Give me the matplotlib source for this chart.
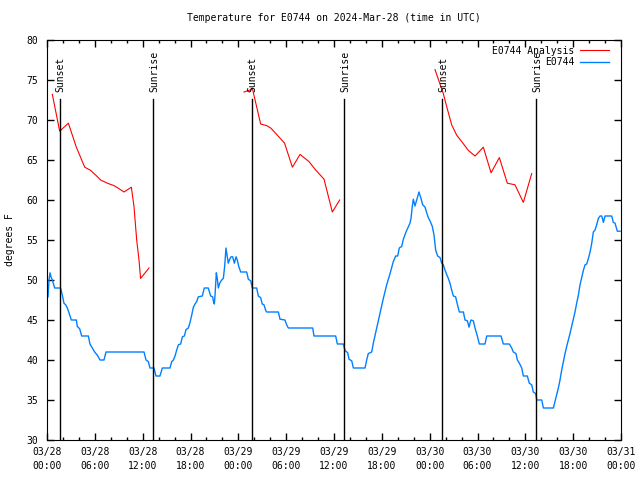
from datetime import datetime, timedelta
import matplotlib
matplotlib.use("Agg")
import matplotlib.pyplot as plt
import matplotlib.dates as mdates

plt.rcParams['font.family'] = 'DejaVu Sans Mono'
plt.rcParams['font.size'] = 7

start = datetime(2024, 3, 28)

# observed temperature (hours after 03/28 00:00 UTC, deg F)
obs_hours = [0.13, 0.25, 0.38, 0.5, 0.63, 0.79, 0.96, 1.71, 1.92, 2.13, 2.34, 2.55, 2.76, 3.05,
             3.68, 3.8, 4.1, 4.35, 5.19, 5.39, 5.69, 5.98, 6.31, 6.65, 7.15, 7.4, 12.17, 12.42,
             12.71, 12.92, 13.42, 13.67, 14.17, 14.47, 15.43, 15.64, 15.85, 16.06, 16.27, 16.48,
             16.77, 16.98, 17.23, 17.44, 17.73, 17.94, 18.15, 18.36, 18.57, 18.78, 18.98, 19.48,
             19.69, 19.73, 20.23, 20.53, 20.78, 20.86, 20.99, 21.07, 21.24, 21.36, 21.49, 21.66,
             21.91, 22.12, 22.29, 22.45, 22.62, 22.74, 22.87, 23.08, 23.29, 23.5, 23.71, 23.87,
             24.05, 24.3, 25.05, 25.25, 25.55, 25.76, 26.3, 26.51, 26.8, 27.0, 27.22, 27.43,
             27.56, 29.02, 29.23, 29.85, 30.06, 30.27, 33.33, 33.49, 36.21, 36.42, 37.17, 37.38,
             37.72, 37.88, 38.22, 38.43, 39.89, 40.1, 40.3, 40.73, 40.93, 41.36, 41.77, 42.19,
             42.61, 43.03, 43.44, 43.74, 43.99, 44.19, 44.49, 44.7, 45.03, 45.53, 45.66, 45.82,
             45.95, 46.16, 46.37, 46.66, 46.91, 47.13, 47.42, 47.63, 47.83, 48.04, 48.33, 48.55,
             48.75, 49.0, 49.3, 49.51, 49.71, 49.92, 50.13, 50.34, 50.55, 50.76, 50.97, 51.26,
             51.39, 51.6, 51.72, 52.23, 52.43, 52.73, 52.94, 53.06, 53.19, 53.48, 53.69, 53.98,
             54.23, 54.94, 55.16, 56.95, 57.24, 57.99, 58.29, 58.49, 58.83, 59.0, 59.25, 59.55,
             59.75, 60.25, 60.5, 60.8, 61.0, 61.3, 61.43, 62.06, 62.26, 63.52, 63.72, 63.93,
             64.14, 64.35, 64.56, 64.77, 64.98, 65.19, 65.4, 65.6, 65.81, 66.02, 66.23, 66.44,
             66.65, 66.86, 67.07, 67.28, 67.49, 67.7, 67.91, 68.12, 68.33, 68.53, 68.74, 68.95,
             69.16, 69.37, 69.58, 69.79, 70.0, 70.83, 71.04, 71.25, 71.54, 71.88]
obs_temps = [47.9, 50.0, 50.9, 50.4, 50.1, 49.6, 49.0, 49.0, 48.1, 47.1, 46.9, 46.5, 45.9, 45.0,
             45.0, 44.2, 43.9, 43.0, 43.0, 42.0, 41.5, 41.0, 40.6, 40.0, 40.0, 41.0, 41.0, 40.0,
             39.8, 39.0, 39.0, 38.0, 38.0, 39.0, 39.0, 39.8, 40.0, 40.5, 41.25, 41.9,
             42.0, 42.9, 43.0, 43.8, 44.0, 44.7, 45.6, 46.6, 47.0, 47.3, 47.9, 48.0,
             48.8, 49.0, 49.0, 48.0, 47.9, 47.4, 47.0, 48.0, 50.9, 50.2, 49.0, 49.6,
             50.0, 50.2, 51.75, 54.0, 52.9, 52.1, 52.5, 52.9, 52.9, 52.1, 52.9, 52.5,
             51.7, 51.0, 51.0, 50.1, 49.9, 49.0, 49.0, 48.0, 47.8, 47.0, 46.9, 46.2,
             46.0, 46.0, 45.1, 45.0, 44.4, 44.0, 44.0, 43.0, 43.0, 42.0, 42.0, 41.2,
             40.9, 40.1, 39.9, 39.0, 39.0, 40.0, 40.8, 41.0, 42.1, 44.0, 45.8, 47.7,
             49.4, 50.8, 52.3, 53.0, 53.0, 54.0, 54.2, 55.1, 56.0, 57.1, 57.7, 59.2,
             60.1, 59.25, 60.0, 61.0, 60.2, 59.4, 59.1, 58.4, 57.8, 57.4, 56.7, 55.6,
             53.75, 53.0, 52.8, 52.1, 51.9, 51.25, 50.7, 50.2, 49.6, 48.75, 48.0, 47.9,
             47.3, 46.5, 46.0, 46.0, 45.0, 44.9, 44.1, 44.6, 45.0, 44.9, 44.0, 43.0,
             42.0, 42.0, 43.0, 43.0, 42.0, 42.0, 41.5, 41.0, 40.8, 40.0, 39.6, 39.0,
             38.0, 38.0, 37.1, 36.9, 36.0, 35.8, 35.0, 35.0, 34.0, 34.0, 34.8, 35.6,
             36.5, 37.5, 38.75, 39.8, 40.8, 41.7, 42.5, 43.3, 44.2, 45.1, 46.0, 47.1,
             48.1, 49.4, 50.3, 51.2, 51.9, 52.0, 52.7, 53.5, 54.6, 56.0, 56.25, 56.9,
             57.7, 58.0, 58.0, 57.2, 58.0, 58.0, 57.2, 57.1, 56.1, 56.1]

# analysis, one run per night
ana_hours = [
    [0.67, 1.59, 2.68, 3.68, 4.73, 5.48, 6.23, 6.73, 7.57, 8.4, 8.9, 9.66, 10.58, 10.91, 11.25,
     11.54, 11.74, 12.8],
    [24.71, 25.46, 25.75, 26.8, 27.55, 28.06, 28.9, 29.8, 30.78, 31.74, 32.86, 33.7, 34.75,
     35.79, 36.71],
    [48.67, 49.71, 50.13, 50.76, 51.39, 52.02, 52.85, 53.69, 54.73, 55.7, 56.74, 57.74, 58.7,
     59.75, 60.8],
]
ana_temps = [
    [73.2, 68.6, 69.6, 66.6, 64.1, 63.7, 63.0, 62.5, 62.1, 61.8, 61.5, 61.0, 61.6, 59.2, 55.0,
     52.5, 50.2, 51.5],
    [73.5, 73.75, 74.0, 69.5, 69.3, 69.0, 68.1, 67.1, 64.1, 65.7, 64.8, 63.75, 62.6, 58.5, 60.0],
    [76.3, 73.3, 71.7, 69.4, 68.1, 67.3, 66.2, 65.5, 66.6, 63.4, 65.3, 62.1, 61.9, 59.7, 63.3],
]

sun_hours = [1.57, 13.33, 25.67, 37.3, 49.59, 61.38]
sun_labels = ["Sunset", "Sunrise", "Sunset", "Sunrise", "Sunset", "Sunrise"]


def to_time(hours):
    return [start + timedelta(hours=h) for h in hours]


fig = plt.figure(figsize=(6.4, 4.8), dpi=100)
ax = fig.add_axes([47 / 640, 40 / 480, 574 / 640, 400 / 480])

for i in range(len(ana_hours)):
    ax.plot(to_time(ana_hours[i]), ana_temps[i], color='#ff0000', lw=0.8,
            label="E0744 Analysis" if i == 0 else None)
ax.plot(to_time(obs_hours), obs_temps, color='#0080ff', lw=1.0, label="E0744")

for h, name in zip(sun_hours, sun_labels):
    t = start + timedelta(hours=h)
    ax.plot([t, t], [30, 72.6], color='black', lw=1.0)
    ax.text(t + timedelta(hours=0.15), 73.5, name, rotation=90, ha='center', va='bottom')

ax.set_xlim(start, start + timedelta(hours=72))
ax.set_ylim(30, 80)
ax.set_yticks(range(30, 81, 5))
ax.xaxis.set_major_locator(mdates.HourLocator(byhour=range(0, 24, 6)))
ax.xaxis.set_minor_locator(mdates.HourLocator(byhour=range(0, 24, 2)))
ax.xaxis.set_major_formatter(mdates.DateFormatter('%m/%d\n%H:%M'))
ax.tick_params(which='both', direction='in', top=True, right=True, width=1.0)
ax.tick_params(which='major', length=5)
ax.tick_params(which='minor', length=2.5)
ax.tick_params(axis='y', pad=6.5)
ax.tick_params(axis='x', pad=5)
for lab in ax.get_xticklabels():
    lab.set_linespacing(1.5)

ax.set_title("Temperature for E0744 on 2024-Mar-28 (time in UTC)", fontsize=7, pad=14)
ax.set_ylabel("degrees F", labelpad=8)

ax.legend(loc='upper right', bbox_to_anchor=(0.991, 1.003), frameon=False, markerfirst=False,
          handlelength=3.0, borderaxespad=0.3, labelspacing=0.15, handletextpad=0.6)

fig.savefig("out.png", dpi=100)
